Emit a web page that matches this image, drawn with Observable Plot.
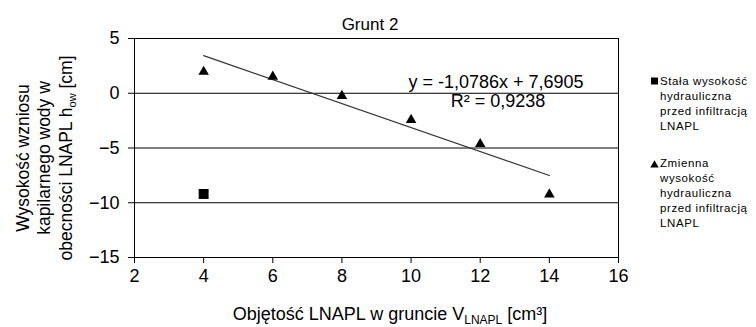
<!DOCTYPE html>
<html><head><meta charset="utf-8">
<script src="https://cdn.jsdelivr.net/npm/d3@7"></script>
<script src="https://cdn.jsdelivr.net/npm/@observablehq/plot@0.6"></script>
<style>body{margin:0;background:#fff} svg{font-family:"Liberation Sans",Arial,sans-serif}</style>
</head><body><div id="chart"></div>
<script>
// Data
const volumes = [4, 6, 8, 10, 12, 14];              // V_LNAPL [cm3], variable head series
const variableHead = [2.1, 1.65, -0.1, -2.3, -4.5, -9.1]; // h_ow [cm]
const constantVolumes = [4];
const constantHead = [-9.2];
const xTicks = [2, 4, 6, 8, 10, 12, 14, 16];
const yTicks = [-15, -10, -5, 0, 5];
const chartTitle = "Grunt 2";
const equationText = "y = -1,0786x + 7,6905";
const r2Text = "R² = 0,9238";
const legendConstant = ["Stała wysokość", "hydrauliczna", "przed infiltracją", "LNAPL"];
const legendVariable = ["Zmienna", "wysokość", "hydrauliczna", "przed infiltracją", "LNAPL"];
const yLabelLines = ["Wysokość wzniosu", "kapilarnego wody w", "obecności LNAPL h"];

const variable = volumes.map((v, i) => ({x: v, y: variableHead[i]}));
const constant = constantVolumes.map((v, i) => ({x: v, y: constantHead[i]}));
const FONT = '"Liberation Sans", Arial, sans-serif';

const plot = Plot.plot({
  width: 756, height: 327,
  marginLeft: 134, marginRight: 138, marginTop: 38, marginBottom: 70,
  style: {fontFamily: FONT, fontSize: "18px", color: "#000", background: "#fff", overflow: "visible"},
  x: {domain: [2, 16], ticks: xTicks, label: null},
  y: {domain: [-15, 5], ticks: yTicks, label: null},
  marks: [
    Plot.gridY(yTicks, {stroke: "#000", strokeOpacity: 1, strokeWidth: 1}),
    Plot.frame({stroke: "#000", strokeWidth: 1}),
    Plot.axisX({ticks: xTicks, tickSize: 6, tickPadding: 6, label: null, fontSize: 18}),
    Plot.axisY({ticks: yTicks, tickSize: 6, tickPadding: 9, label: null, fontSize: 18}),
    Plot.linearRegressionY(variable, {x: "x", y: "y", ci: 0, stroke: "#333", strokeWidth: 1.2}),
    Plot.dot(variable, {x: "x", y: "y", symbol: "triangle", r: 3.9, fill: "#000", stroke: "none", dy: 1.5}),
    Plot.dot(constant, {x: "x", y: "y", symbol: "square", r: 5.6, fill: "#000", stroke: "none"})
  ]
});

const svg = d3.select(plot);

// Title
svg.append("text").attr("x", 370).attr("y", 30).attr("text-anchor", "middle")
  .attr("font-size", 17).attr("font-family", FONT).text(chartTitle);

// Trendline equation
svg.append("text").attr("x", 496).attr("y", 88).attr("text-anchor", "middle")
  .attr("font-size", 18).attr("font-family", FONT).text(equationText);
svg.append("text").attr("x", 498).attr("y", 107).attr("text-anchor", "middle")
  .attr("font-size", 18).attr("font-family", FONT).text(r2Text);

// Y axis label (three lines, rotated)
const yl = svg.append("g").attr("transform", "translate(44,158) rotate(-90)")
  .attr("font-size", 17.5).attr("font-family", FONT).attr("text-anchor", "middle");
yl.append("text").attr("y", -21.5).attr("dy", "0.35em").text(yLabelLines[0]);
yl.append("text").attr("y", 0).attr("dy", "0.35em").text(yLabelLines[1]);
const t3 = yl.append("text").attr("y", 21.5).attr("dy", "0.35em");
t3.append("tspan").text(yLabelLines[2]);
t3.append("tspan").attr("font-size", 11).attr("dy", 4).text("ow");
t3.append("tspan").attr("dy", -4).text(" [cm]");

// X axis label
const xl = svg.append("text").attr("x", 390).attr("y", 320).attr("text-anchor", "middle")
  .attr("font-size", 18).attr("font-family", FONT);
xl.append("tspan").text("Objętość LNAPL w gruncie V");
xl.append("tspan").attr("font-size", 12).attr("dy", 4).text("LNAPL");
xl.append("tspan").attr("dy", -4).text(" [cm³]");

// Legend
const lg = svg.append("g").attr("font-size", 11.5).attr("font-family", FONT)
  .attr("letter-spacing", 0.6).attr("text-anchor", "start");
lg.append("rect").attr("x", 651).attr("y", 77.5).attr("width", 7).attr("height", 7).attr("fill", "#000");
legendConstant.forEach((s, i) => lg.append("text").attr("x", 660).attr("y", 85 + i * 15).text(s));
lg.append("path").attr("transform", "translate(654.5,165)")
  .attr("d", d3.symbol(d3.symbolTriangle, 30)()).attr("fill", "#000");
legendVariable.forEach((s, i) => lg.append("text").attr("x", 660).attr("y", 167 + i * 15).text(s));

document.getElementById("chart").appendChild(plot);
</script>
</body></html>
